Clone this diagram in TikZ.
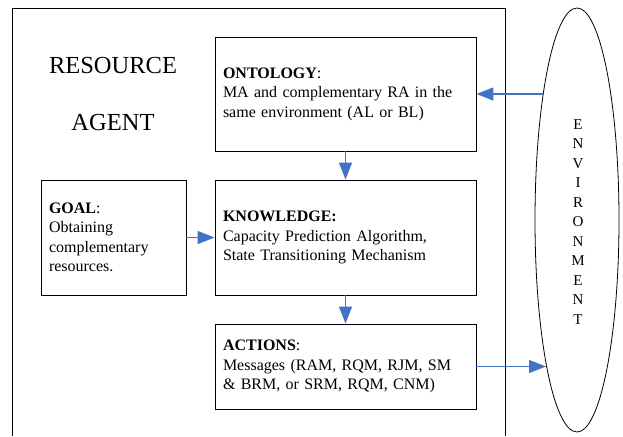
\documentclass[tikz,border=0pt]{standalone}
\usepackage{fontspec}
\setmainfont{Liberation Serif}
\usetikzlibrary{arrows.meta,shapes.geometric}
\definecolor{arrowblue}{HTML}{4472C4}

\begin{document}
\begin{tikzpicture}[x=1pt,y=-1pt,
  box/.style={draw,line width=0.9pt,rectangle,align=left,inner sep=8pt,
    font=\fontsize{16}{19.5}\selectfont},
  arr/.style={draw=arrowblue,line width=1.3pt,-{Triangle[length=17pt,width=13pt]}}]
  \useasboundingbox (0,0) rectangle (623,436);
  \draw[line width=0.9pt] (12,436) -- (12,8) -- (505,8) -- (505,436);
  \node[font=\fontsize{24.5}{28}\selectfont] (title1) at (113,66) {RESOURCE};
  \node[font=\fontsize{24.5}{28}\selectfont] (title2) at (113,123) {AGENT};
  \node[box,text width=245pt,minimum height=114pt] (onto) at (345.5,94)
    {\textbf{ONTOLOGY}:\\MA and complementary RA in the\\same environment (AL or BL)};
  \node[box,text width=129pt,minimum height=115pt] (goal) at (113.5,237.5)
    {\textbf{GOAL}:\\Obtaining\\complementary\\resources.};
  \node[box,text width=245pt,minimum height=115pt] (know) at (345.5,237.5)
    {\textbf{KNOWLEDGE:}\\Capacity Prediction Algorithm,\\State Transitioning Mechanism};
  \node[box,text width=245pt,minimum height=85pt] (act) at (345.5,366.5)
    {\textbf{ACTIONS}:\\Messages (RAM, RQM, RJM, SM\\\& BRM, or SRM, RQM, CNM)};
  \node[draw,ellipse,line width=0.8pt,minimum width=84pt,minimum height=424pt,inner sep=0pt] (env) at (577,220) {};
  \node[align=center,font=\fontsize{15}{19.5}\selectfont] (envtext) at (578,222)
    {E\\N\\V\\I\\R\\O\\N\\M\\E\\N\\T};
  \coordinate (envin) at (543,94);
  \coordinate (envout) at (546,366.5);
  \draw[arr] (envin) -- (onto.east);
  \draw[arr] (onto.south) -- (know.north);
  \draw[arr] (goal.east) -- (know.west);
  \draw[arr] (know.south) -- (act.north);
  \draw[arr] (act.east) -- (envout);
\end{tikzpicture}
\end{document}
